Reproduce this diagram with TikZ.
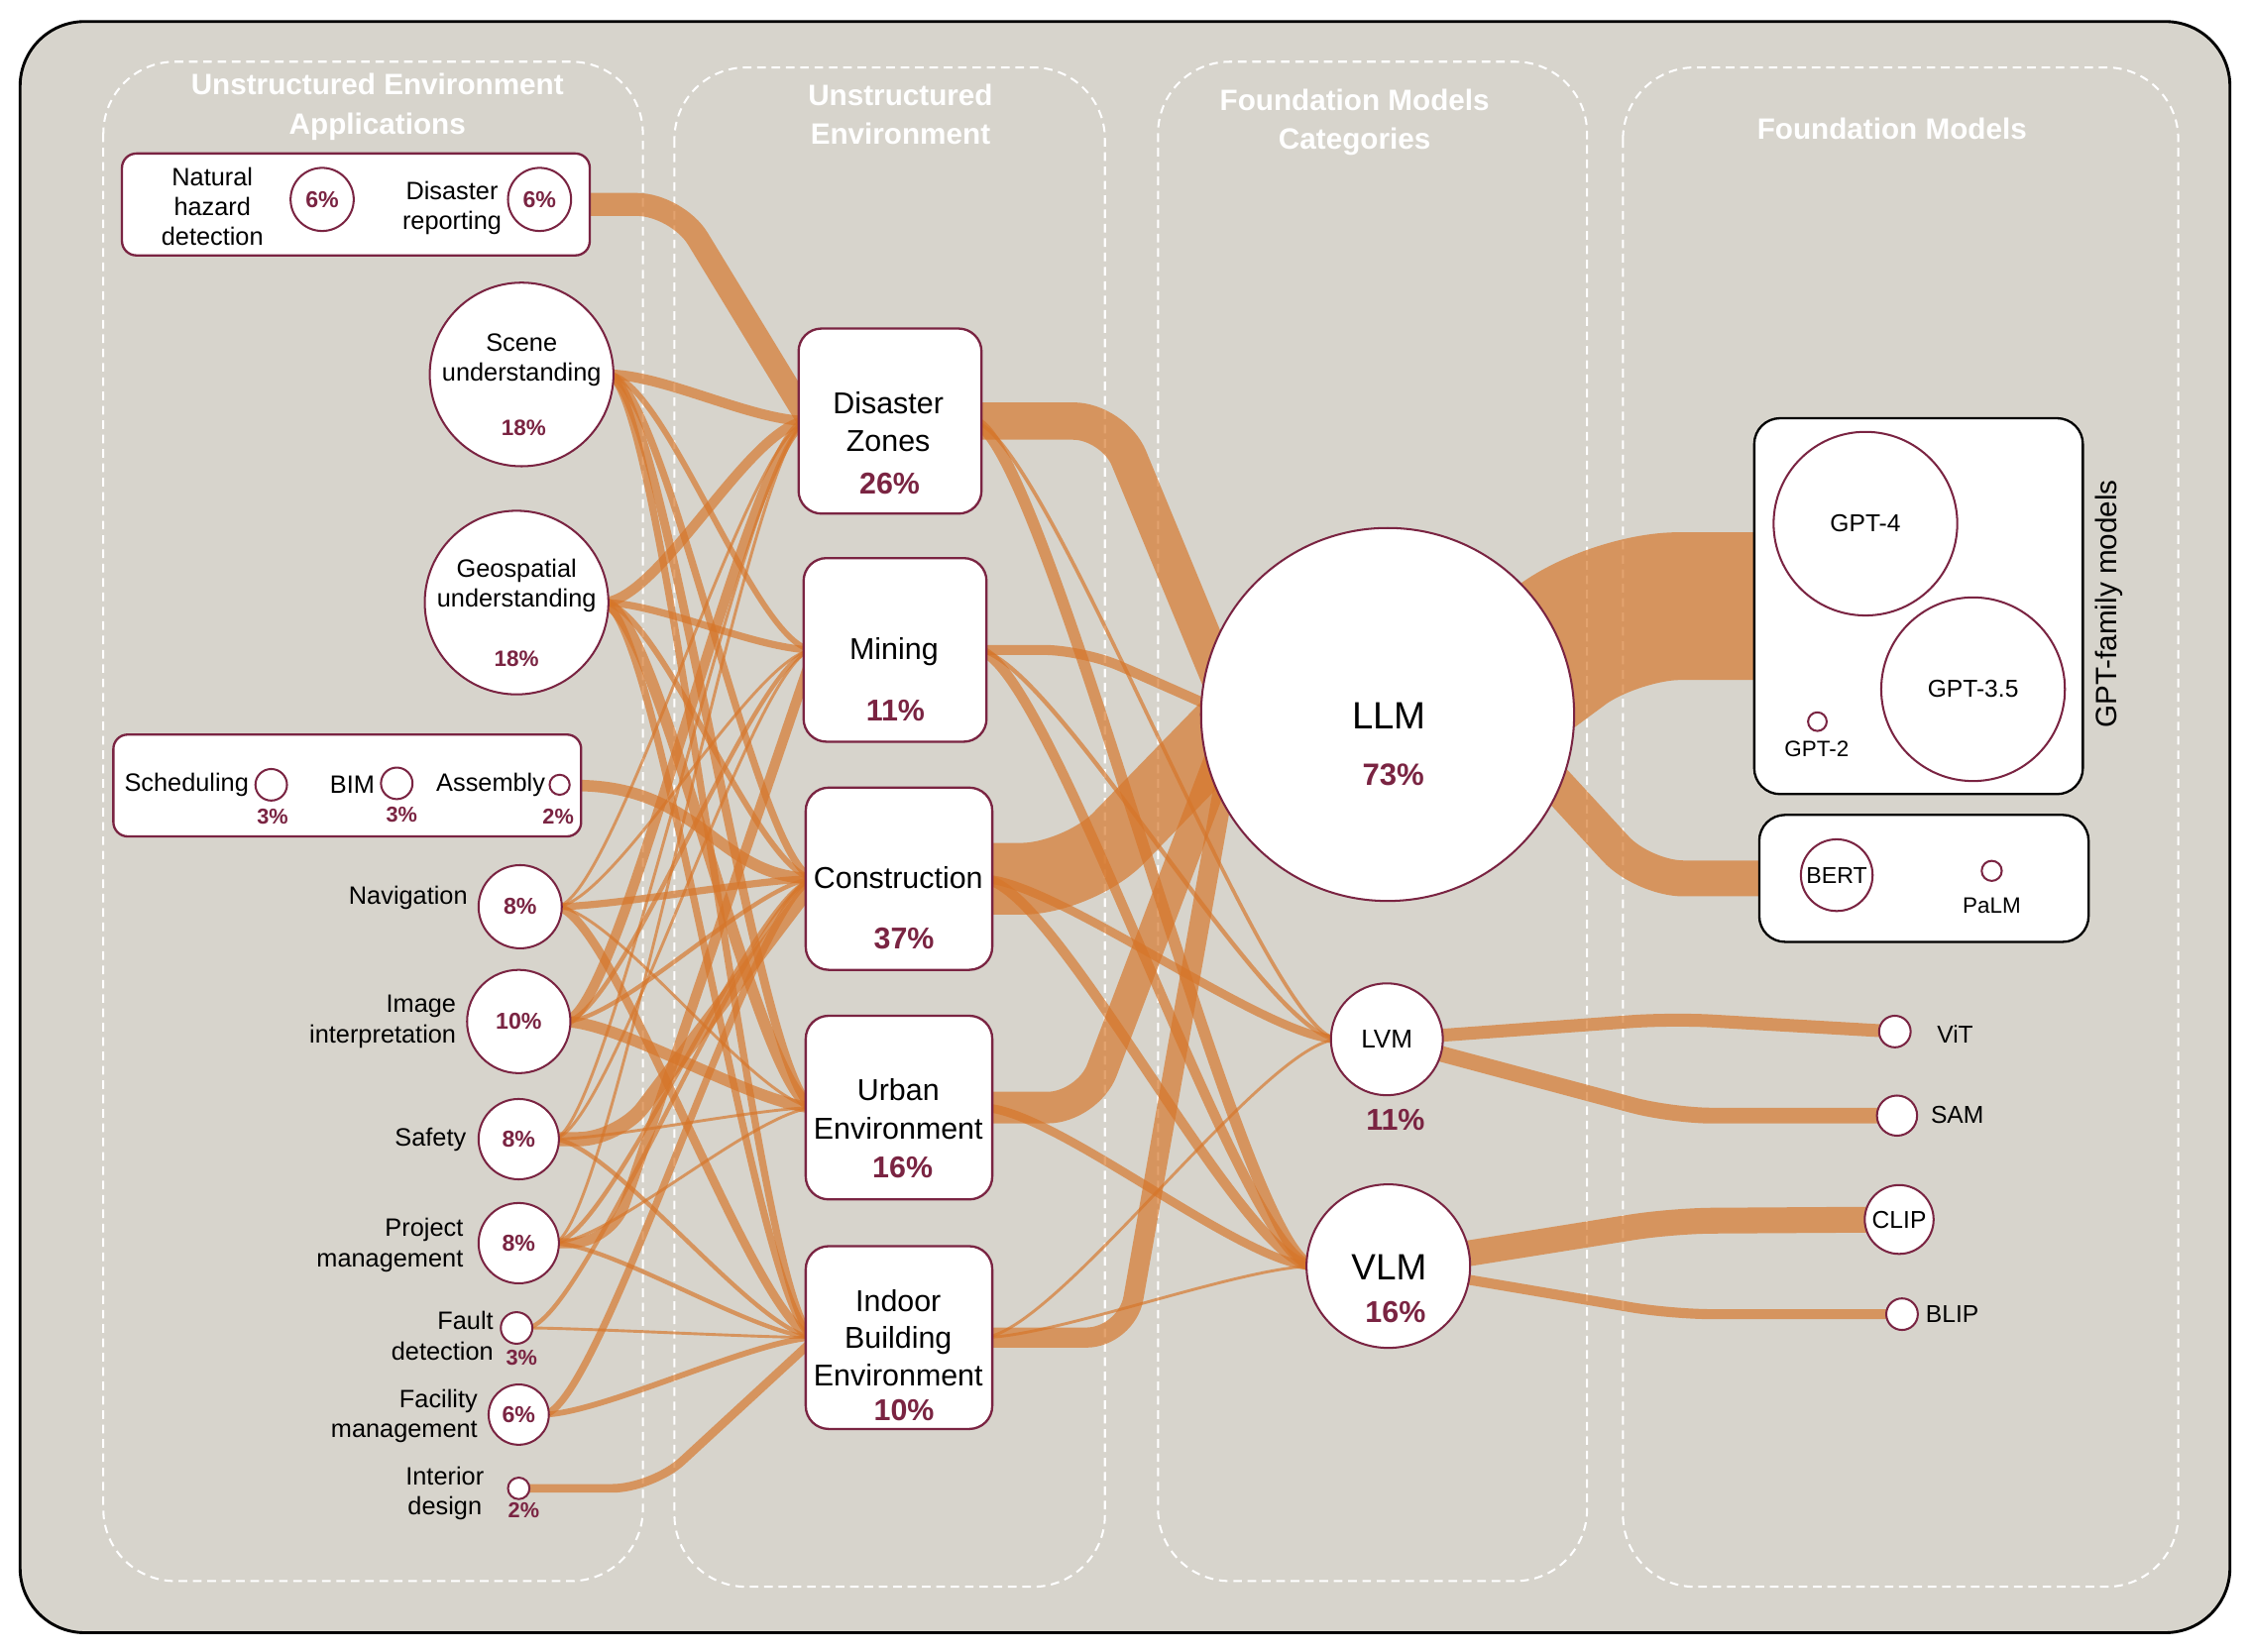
\documentclass[tikz,border=0pt]{standalone}
\usepackage{fontspec}
\setmainfont{Liberation Sans}
\usetikzlibrary{calc}

\definecolor{panelbg}{RGB}{215,212,204}
\definecolor{wine}{RGB}{122,36,66}
\definecolor{flowc}{RGB}{214,118,41}

\pgfdeclarelayer{back}
\pgfdeclarelayer{flows}
\pgfsetlayers{back,flows,main}

\tikzset{
  circ/.style={circle,draw=wine,fill=white,line width=1.4pt,inner sep=0pt,minimum size=#1pt},
  appbox/.style={draw=wine,fill=white,line width=1.6pt,rounded corners=10pt,minimum width=326pt,minimum height=71pt},
  envbox/.style={draw=wine,fill=white,line width=1.6pt,rounded corners=16pt,minimum width=130pt,minimum height=128pt},
  fmbox/.style={draw=black,fill=white,line width=1.6pt,rounded corners=18pt},
  txt/.style={font=\fontsize{17.5}{21}\selectfont,align=center,inner sep=0pt},
  rtxt/.style={txt,align=right,anchor=east},
  envtxt/.style={font=\fontsize{21}{26.5}\selectfont,align=center,inner sep=0pt},
  fmtxt/.style={font=\fontsize{#1}{#1}\selectfont,inner sep=0pt},
  fmtxt/.default=17,
  pct/.style={font=\fontsize{#1}{#1}\selectfont\bfseries,text=wine,inner sep=0pt},
  pct/.default=16,
  title/.style={font=\fontsize{20.5}{27}\selectfont\bfseries,text=white,align=center,inner sep=0pt},
  flow/.style={draw=flowc,draw opacity=0.67,line width=#1pt,rounded corners=28pt},
  panel/.style={draw=white,line width=1.4pt,dash pattern=on 6pt off 4pt,rounded corners=50pt}
}

\begin{document}
\begin{tikzpicture}[x=1pt,y=-1pt]
  \useasboundingbox (0,0) rectangle (1568,1151);

  % panel titles
  \node[title] (t-app) at (263,74.5) {Unstructured Environment\\Applications};
  \node[title] (t-env) at (627.5,80) {Unstructured\\Environment};
  \node[title] (t-cat) at (944,85.5) {Foundation Models\\Categories};
  \node[title] (t-fm) at (1318.5,90) {Foundation Models};

  % applications
  \node[appbox] (boxa) at (248,142.5) {};
  \node[txt] (hazard-t) at (148,144) {Natural\\hazard\\detection};
  \node[circ=44,pct] (hazard) at (224.5,139) {6\%};
  \node[txt] (report-t) at (315,145) {Disaster\\reporting};
  \node[circ=44,pct] (report) at (376,139) {6\%};

  \node[circ=128] (scene) at (363.5,261) {};
  \node[txt] (scene-t) at (363.5,251) {Scene\\understanding};
  \node[pct=15.5] (scene-p) at (365,298) {18\%};
  \node[circ=128] (geo) at (360,420) {};
  \node[txt] (geo-t) at (360,408) {Geospatial\\understanding};
  \node[pct=15.5] (geo-p) at (360,459) {18\%};

  \node[appbox] (boxb) at (242,547.5) {};
  \node[txt] (sched-t) at (130,547) {Scheduling};
  \node[circ=22] (sched) at (189,547) {};
  \node[pct=15] (sched-p) at (190,569) {3\%};
  \node[txt] (bim-t) at (245.5,547) {BIM};
  \node[circ=22] (bim) at (276.5,546) {};
  \node[pct=15] (bim-p) at (280,568) {3\%};
  \node[txt] (assem-t) at (342,547) {Assembly};
  \node[circ=14] (assem) at (390,547) {};
  \node[pct=15] (assem-p) at (389,569) {2\%};

  \node[circ=58,pct] (nav) at (362.5,632) {8\%};
  \node[rtxt] (nav-t) at (326,626) {Navigation};
  \node[circ=72,pct] (img) at (361.5,712) {10\%};
  \node[rtxt] (img-t) at (318,712) {Image\\interpretation};
  \node[circ=56,pct] (safety) at (361.5,794) {8\%};
  \node[rtxt] (safety-t) at (325,794) {Safety};
  \node[circ=56,pct] (project) at (361.5,866.5) {8\%};
  \node[rtxt] (project-t) at (323,868) {Project\\management};
  \node[circ=22] (fault) at (360,925.6) {};
  \node[pct=15] (fault-p) at (363.5,946) {3\%};
  \node[rtxt] (fault-t) at (344,931) {Fault\\detection};
  \node[circ=42,pct] (facil) at (361.5,986) {6\%};
  \node[rtxt] (facil-t) at (333,987) {Facility\\management};
  \node[circ=15] (interior) at (361.5,1037.4) {};
  \node[pct=15] (interior-p) at (365,1053) {2\%};
  \node[txt] (interior-t) at (310,1041) {Interior\\design};

  % unstructured environments
  \node[envbox,minimum width=127.5pt,minimum height=129pt] (dz) at (620.25,293.5) {};
  \node[envtxt] (dz-t) at (619,294) {Disaster\\Zones};
  \node[pct=21] (dz-p) at (620,337) {26\%};
  \node[envbox,minimum width=127.5pt] (mining) at (623.75,453) {};
  \node[envtxt] (mining-t) at (623,454) {Mining};
  \node[pct=21] (mining-p) at (624,495) {11\%};
  \node[envbox,minimum height=127pt] (constr) at (626.5,612.5) {};
  \node[envtxt] (constr-t) at (626,612) {Construction};
  \node[pct=21] (constr-p) at (630,654) {37\%};
  \node[envbox] (urban) at (626.5,772) {};
  \node[envtxt] (urban-t) at (626,773) {Urban\\Environment};
  \node[pct=21] (urban-p) at (629,814) {16\%};
  \node[envbox,minimum height=127.4pt] (indoor) at (626.5,932.3) {};
  \node[envtxt,font=\fontsize{21}{25.7}\selectfont] (indoor-t) at (626,932.5) {Indoor\\Building\\Environment};
  \node[pct=21] (indoor-p) at (630,983) {10\%};

  % model categories
  \node[circ=260] (llm) at (967,498) {};
  \node[fmtxt=26.5] (llm-t) at (968,499) {LLM};
  \node[pct=21.5] (llm-p) at (971,540) {73\%};
  \node[circ=78] (lvm) at (966.5,724.4) {};
  \node[fmtxt=18] (lvm-t) at (966.5,724) {LVM};
  \node[pct=21] (lvm-p) at (972.5,780.5) {11\%};
  \node[circ=114] (vlm) at (967.5,882.5) {};
  \node[fmtxt=25.5] (vlm-t) at (968,883) {VLM};
  \node[pct=21] (vlm-p) at (972.5,914.5) {16\%};

  % foundation models
  \node[fmbox,minimum width=229pt,minimum height=262pt] (gptbox) at (1337,422.5) {};
  \node[circ=128,fmtxt] (gpt4) at (1300,365) {GPT-4};
  \node[circ=128,fmtxt] (gpt35) at (1375,480.4) {GPT-3.5};
  \node[circ=13] (gpt2) at (1266.5,503) {};
  \node[fmtxt=15.5] (gpt2-t) at (1266,522) {GPT-2};
  \node[fmtxt=20.5,rotate=90] (gptfam) at (1470,421) {GPT-family models};
  \node[fmbox,minimum width=229.5pt,minimum height=88.5pt] (bertbox) at (1340.75,612.25) {};
  \node[circ=50,fmtxt=16] (bert) at (1280,610) {BERT};
  \node[circ=14] (palm) at (1388,607) {};
  \node[fmtxt=15.5] (palm-t) at (1388,631) {PaLM};
  \node[circ=22] (vit) at (1320.5,719) {};
  \node[fmtxt] (vit-t) at (1362.5,721) {ViT};
  \node[circ=28] (sam) at (1322,777.6) {};
  \node[fmtxt] (sam-t) at (1364,777) {SAM};
  \node[circ=48,fmtxt] (clip) at (1323.5,850) {CLIP};
  \node[circ=22] (blip) at (1325.5,916) {};
  \node[fmtxt] (blip-t) at (1360.5,916) {BLIP};

  % flow ends
  \foreach \n in {boxa,scene,geo,boxb,nav,img,safety,project,fault,facil,interior}
    \coordinate (\n-o) at ($(\n.east)+(-5,0)$);
  \foreach \n in {dz,mining,constr,urban,indoor} {
    \coordinate (\n-i) at ($(\n.west)+(8,0)$);
    \coordinate (\n-o) at ($(\n.east)+(-8,0)$);
  }
  \coordinate (llm-i) at ($(llm.west)+(25,2)$);
  \coordinate (lvm-i) at ($(lvm.west)+(6,0)$);
  \coordinate (vlm-i) at ($(vlm.west)+(6,0)$);

  \begin{pgfonlayer}{back}
    \draw[line width=2pt,fill=panelbg,rounded corners=45pt] (14,15) rectangle (1554,1138);
    \foreach \xa/\ya/\xb/\yb in {72/43/448/1102,470/47/770/1106,807/43/1106/1102,1131/47/1518/1106}
      \draw[panel] (\xa,\ya) rectangle (\xb,\yb);
  \end{pgfonlayer}

  \begin{pgfonlayer}{flows}
    % applications -> environments
    \draw[flow=16] (boxa-o) -- ++(65,0) -- (dz-i);
    \draw[flow=8] (boxb-o) .. controls +(90,0) and +(-70,0) .. (constr-i);
    \draw[flow=10] (safety-o) -- ++(46,0) -- (constr-i);
    \draw[flow=7] (project-o) -- ++(41,0) -- (mining-i);
    \draw[flow=6] (interior-o) -- ++(90,0) -- (indoor-i);
    \foreach \a/\b/\w in {scene/dz/7,scene/mining/4,scene/constr/5,scene/urban/6,scene/indoor/5,
        geo/dz/7,geo/mining/5,geo/constr/4,geo/urban/8,geo/indoor/5,
        nav/dz/2,nav/mining/2,nav/constr/5,nav/urban/2,nav/indoor/6,
        img/dz/7,img/mining/3,img/constr/3,img/urban/8,
        safety/dz/2,safety/mining/2,safety/urban/2,safety/indoor/3,
        project/dz/2,project/constr/3,project/urban/2,project/indoor/3,
        fault/constr/3,fault/indoor/2,facil/constr/5,facil/indoor/4}
      \draw[flow=\w] (\a-o) .. controls +(40,0) and +(-40,0) .. (\b-i);

    % environments -> categories
    \draw[flow=26] (dz-o) -- (776,293.5) -- (llm-i);
    \draw[flow=7] (mining-o) -- (755,453) -- (llm-i);
    \draw[flow=50,rounded corners=40pt] (constr-o) -- (752,612.5) -- (llm-i);
    \draw[flow=22] (urban-o) -- (758,772) -- (llm-i);
    \draw[flow=14] (indoor-o) -- (785,932.3) -- (llm-i);
    \foreach \a/\b/\w in {dz/lvm/2.5,dz/vlm/8,mining/lvm/3,mining/vlm/7,constr/lvm/6,
        constr/vlm/7,urban/vlm/6,indoor/lvm/2,indoor/vlm/2}
      \draw[flow=\w] (\a-o) .. controls +(50,0) and +(-50,0) .. (\b-i);

    % categories -> models
    \draw[flow=103,rounded corners=45pt] (1020,500) -- (1125,422.5) -- (gptbox.center);
    \draw[flow=25] (1060,520) -- (1145,612.25) -- (bertbox.center);
    \draw[flow=9] (lvm.center) -- (1165,710) -- (vit.center);
    \draw[flow=11] (lvm.center) -- (1165,777.6) -- (sam.center);
    \draw[flow=18] (vlm.center) -- (1165,851) -- (clip.center);
    \draw[flow=7] (vlm.center) -- (1165,916) -- (blip.center);
  \end{pgfonlayer}
\end{tikzpicture}
\end{document}
